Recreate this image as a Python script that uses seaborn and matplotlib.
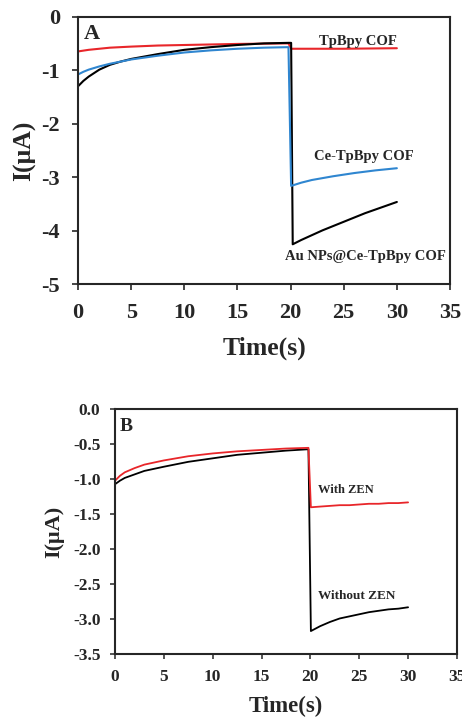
import matplotlib
matplotlib.use("Agg")
import matplotlib.pyplot as plt
import seaborn as sns
import pandas as pd

# Panel A: chronoamperometry of three electrodes
a_time_black = [0, 0.5, 1, 2, 3, 4, 5, 7.5, 10, 12.5, 15, 17.5, 19.8, 20.05,
                20.2, 21, 22, 23, 24, 25, 26, 27, 28, 29, 30]
a_black = [-1.3, -1.2, -1.12, -0.99, -0.9, -0.84, -0.79, -0.7, -0.62, -0.57,
           -0.53, -0.5, -0.49, -0.49, -4.25, -4.17, -4.08, -3.99, -3.91,
           -3.83, -3.75, -3.67, -3.6, -3.53, -3.46]
a_time_blue = [0, 0.5, 1, 2, 3, 4, 5, 7.5, 10, 12.5, 15, 17.5, 19.8, 20.05,
               21, 22, 24, 26, 28, 30]
a_blue = [-1.08, -1.03, -0.99, -0.93, -0.88, -0.84, -0.8, -0.73, -0.67,
          -0.63, -0.6, -0.58, -0.57, -3.16, -3.1, -3.05, -2.98, -2.92,
          -2.87, -2.83]
a_time_red = [0, 1, 2, 3, 5, 7.5, 10, 15, 19.8, 20.05, 25, 30]
a_red = [-0.65, -0.62, -0.6, -0.58, -0.56, -0.54, -0.53, -0.51, -0.5, -0.6,
         -0.6, -0.59]

# Panel B: with / without ZEN
b_time = [0, 0.5, 1, 2, 3, 5, 7.5, 10, 12.5, 15, 17.5, 19.8, 20.05,
          21, 22, 23, 24, 25, 26, 27, 28, 29, 30]
b_with = [-1.02, -0.95, -0.9, -0.84, -0.79, -0.73, -0.67, -0.63, -0.6,
          -0.58, -0.56, -0.55, -1.4, -1.39, -1.38, -1.37, -1.37, -1.36,
          -1.35, -1.35, -1.34, -1.34, -1.33]
b_without = [-1.07, -1.02, -0.98, -0.93, -0.88, -0.82, -0.75, -0.7, -0.65,
             -0.62, -0.59, -0.57, -3.17, -3.1, -3.04, -2.99, -2.96, -2.93,
             -2.9, -2.88, -2.86, -2.85, -2.83]

sns.set_style("ticks")
plt.rcParams['font.family'] = ['Liberation Serif', 'DejaVu Serif']
plt.rcParams['font.weight'] = 'bold'
plt.rcParams['axes.unicode_minus'] = False

fig = plt.figure(figsize=(4.62, 7.22), dpi=100)
ax1 = fig.add_axes([0.169, 0.606, 0.805, 0.371])
ax2 = fig.add_axes([0.249, 0.094, 0.740, 0.339])

# ---- panel A ----
sns.lineplot(x=a_time_red, y=a_red, ax=ax1, color="#e8262a", lw=1.5, sort=False)
sns.lineplot(x=a_time_black, y=a_black, ax=ax1, color="black", lw=1.5, sort=False)
sns.lineplot(x=a_time_blue, y=a_blue, ax=ax1, color="#2f86d0", lw=1.5, sort=False)
ax1.set_xlim(0, 35)
ax1.set_ylim(-5, 0)
ax1.set_xticks(range(0, 36, 5))
ax1.set_yticks(range(-5, 1))
ax1.set_xlabel("Time(s)", fontsize=18.5, fontweight="bold", labelpad=10)
ax1.set_ylabel("I(\u03bcA)", fontsize=18.5, fontweight="bold", labelpad=4)
ax1.tick_params(labelsize=16, width=1.2, length=4, pad=9)
ax1.text(0.5, -0.33, "A", fontsize=16, fontweight="bold", va="center")
ax1.text(30, -0.46, "TpBpy COF", fontsize=10.5, fontweight="bold", ha="right", va="center")
ax1.text(26.9, -2.61, "Ce-TpBpy COF", fontsize=10.5, fontweight="bold", ha="center", va="center")
ax1.text(27, -4.48, "Au NPs@Ce-TpBpy COF", fontsize=10.5, fontweight="bold", ha="center", va="center")

# ---- panel B ----
sns.lineplot(x=b_time, y=b_without, ax=ax2, color="black", lw=1.3, sort=False)
sns.lineplot(x=b_time, y=b_with, ax=ax2, color="#e8262a", lw=1.3, sort=False)
ax2.set_xlim(0, 35)
ax2.set_ylim(-3.5, 0)
ax2.set_xticks(range(0, 36, 5))
ax2.set_yticks([0, -0.5, -1, -1.5, -2, -2.5, -3, -3.5])
ax2.set_yticklabels(["0.0", "-0.5", "-1.0", "-1.5", "-2.0", "-2.5", "-3.0", "-3.5"])
ax2.set_xlabel("Time(s)", fontsize=16.5, fontweight="bold", labelpad=8)
ax2.set_ylabel("I(\u03bcA)", fontsize=16, fontweight="bold", labelpad=6)
ax2.tick_params(labelsize=12.5, width=1.1, length=3.5, pad=7)
ax2.text(0.5, -0.24, "B", fontsize=14, fontweight="bold", va="center")
ax2.text(20.8, -1.15, "With ZEN", fontsize=9, fontweight="bold", va="center")
ax2.text(20.8, -2.67, "Without ZEN", fontsize=9.5, fontweight="bold", va="center")

for ax in (ax1, ax2):
    for s in ax.spines.values():
        s.set_linewidth(1.5)
        s.set_visible(True)

fig.savefig("out.png", dpi=100)
